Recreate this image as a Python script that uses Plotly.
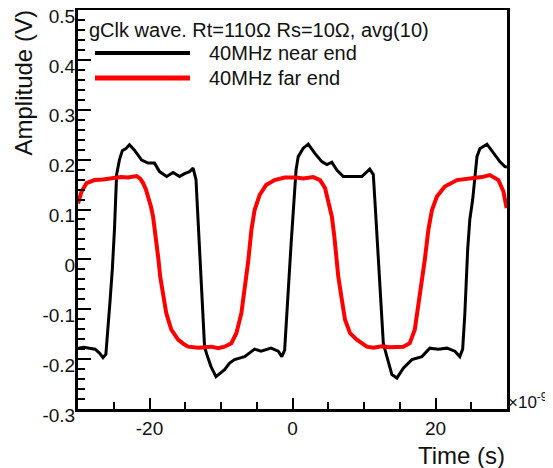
import plotly.graph_objects as go

# time in units of 1e-9 s, amplitude in V
near_t = [-30.0, -29.2, -28.4, -27.6, -27.0, -26.5, -26.1, -25.8, -25.5, -25.2,
          -24.9, -24.6, -24.2, -23.8, -23.3, -22.8, -22.1, -21.1, -20.2, -19.3,
          -18.6, -17.6, -16.7, -15.8, -15.1, -14.4, -13.9, -13.5, -13.2, -12.9,
          -12.6, -12.3, -12.0, -11.4, -10.7, -10.1, -9.5, -8.8, -8.1, -6.7,
          -5.3, -4.4, -3.0, -2.0, -1.5, -1.1, -0.8, -0.5, -0.2, 0.2,
          0.5, 0.8, 1.5, 2.2, 3.1, 4.1, 4.8, 5.5, 6.2, 7.1,
          8.5, 9.7, 10.8, 11.3, 11.6, 11.9, 12.2, 12.5, 12.7, 13.2,
          13.9, 14.6, 15.5, 16.7, 18.1, 19.2, 20.4, 21.6, 22.7, 23.4,
          23.8, 24.1, 24.5, 24.8, 25.2, 25.8, 26.2, 27.2, 28.1, 29.0,
          29.7, 30.0]
near_v = [-0.178, -0.176, -0.178, -0.180, -0.188, -0.197, -0.190, -0.140, -0.080, -0.020,
          0.060, 0.170, 0.200, 0.218, 0.222, 0.230, 0.219, 0.199, 0.193, 0.193,
          0.176, 0.166, 0.174, 0.166, 0.172, 0.176, 0.183, 0.160, 0.080, 0.000,
          -0.090, -0.175, -0.190, -0.215, -0.235, -0.228, -0.221, -0.208, -0.201, -0.195,
          -0.180, -0.184, -0.178, -0.184, -0.195, -0.182, -0.120, -0.040, 0.030, 0.120,
          0.180, 0.206, 0.223, 0.231, 0.213, 0.196, 0.190, 0.195, 0.179, 0.166,
          0.166, 0.166, 0.181, 0.170, 0.100, 0.030, -0.050, -0.120, -0.168, -0.195,
          -0.231, -0.238, -0.218, -0.201, -0.195, -0.178, -0.180, -0.178, -0.184, -0.195,
          -0.180, -0.110, 0.020, 0.080, 0.120, 0.206, 0.222, 0.231, 0.213, 0.196,
          0.186, 0.185]

far_t = [-30.0, -29.5, -28.8, -27.7, -26.5, -25.3, -24.0, -23.0, -21.8, -21.3,
         -20.9, -20.5, -20.2, -19.8, -19.5, -19.05, -18.75, -18.5, -18.1, -17.65,
         -16.95, -16.0, -15.2, -14.6, -13.2, -11.35, -10.4, -9.5, -8.55, -7.85,
         -7.15, -6.7, -6.2, -5.75, -5.3, -4.6, -3.7, -2.5, -1.1, 0.5,
         1.5, 2.9, 3.85, 4.55, 5.0, 5.5, 5.85, 6.2, 6.4, 6.9,
         7.35, 8.05, 9.0, 10.4, 11.3, 12.5, 13.6, 15.5, 16.4, 17.1,
         17.6, 18.1, 18.5, 19.0, 19.5, 20.2, 21.3, 23.0, 24.8, 26.45,
         27.6, 28.8, 29.5, 29.95]
far_v = [0.112, 0.136, 0.153, 0.159, 0.160, 0.162, 0.165, 0.164, 0.167, 0.162,
         0.153, 0.140, 0.126, 0.106, 0.086, 0.039, 0.000, -0.035, -0.068, -0.108,
         -0.141, -0.161, -0.170, -0.175, -0.177, -0.175, -0.178, -0.175, -0.168, -0.148,
         -0.108, -0.061, -0.005, 0.059, 0.099, 0.129, 0.149, 0.159, 0.164, 0.164,
         0.162, 0.165, 0.159, 0.143, 0.119, 0.086, 0.046, 0.000, -0.034, -0.081,
         -0.121, -0.148, -0.161, -0.175, -0.177, -0.174, -0.176, -0.175, -0.168, -0.141,
         -0.095, -0.048, -0.001, 0.059, 0.099, 0.126, 0.146, 0.159, 0.162, 0.165,
         0.169, 0.159, 0.136, 0.103]

x_ticks = [-20, 0, 20]
x_labels = ["-20", "0", "20"]
y_ticks = [-0.3, -0.2, -0.1, 0, 0.1, 0.2, 0.3, 0.4, 0.5]
y_labels = ["-0.3", "-0.2", "-0.1", "0", "0.1", "0.2", "0.3", "0.4", "0.5"]

FONT = "Liberation Sans, Arial, sans-serif"
TXT = "#111111"

fig = go.Figure()
fig.add_trace(go.Scatter(x=near_t, y=near_v, mode="lines",
                         line=dict(color="black", width=3), name="40MHz near end"))
fig.add_trace(go.Scatter(x=far_t, y=far_v, mode="lines",
                         line=dict(color="#ff0000", width=4), name="40MHz far end"))

# the page body adds an 8px offset, so the figure is laid out 8px smaller
OFF = 8
W, H = 553 - OFF, 468 - OFF
L, R, T, B = 70, 46, 2, 59
pw, ph = W - L - R, H - T - B


def px(x):  # screen x -> paper
    return (x - OFF - L) / pw


def py(y):  # screen y -> paper
    return 1 - (y - OFF - T) / ph


fig.update_layout(
    width=W, height=H,
    margin=dict(l=L, r=R, t=T, b=B),
    paper_bgcolor="white", plot_bgcolor="white",
    showlegend=False,
    font=dict(family=FONT, color=TXT, size=19),
    xaxis=dict(range=[-30, 30], tickvals=x_ticks, ticktext=x_labels,
               ticks="inside", ticklen=11,
               tickwidth=2, tickcolor="black", showgrid=False, zeroline=False,
               showline=True, linecolor="black", linewidth=3, mirror=True,
               tickfont=dict(size=19), automargin=False,
               minor=dict(dtick=5, tick0=0, ticks="inside", ticklen=7, tickwidth=2,
                          tickcolor="black")),
    yaxis=dict(range=[-0.3, 0.5], tickvals=y_ticks, ticktext=y_labels,
               ticks="inside", ticklen=13,
               tickwidth=2, tickcolor="black", showgrid=False, zeroline=False,
               showline=True, linecolor="black", linewidth=3, mirror=True,
               tickfont=dict(size=19), automargin=False,
               ticklabelshift=6, ticklabelstandoff=-4, ticklabeloverflow="allow",
               minor=dict(dtick=0.02, tick0=0, ticks="inside", ticklen=7, tickwidth=2,
                          tickcolor="black")),
)

# legend block drawn in the frame's top-left corner
fig.add_annotation(xref="paper", yref="paper", x=px(87), y=py(30), xanchor="left",
                   yanchor="middle", showarrow=False,
                   text="gClk wave. Rt=110Ω Rs=10Ω, avg(10)", font=dict(size=20))
legend = [("black", 4, 53, "40MHz near end"), ("#ff0000", 5, 78, "40MHz far end")]
for col, w, yy, label in legend:
    fig.add_shape(type="line", xref="paper", yref="paper", x0=px(95), x1=px(190),
                  y0=py(yy), y1=py(yy), line=dict(color=col, width=w))
    fig.add_annotation(xref="paper", yref="paper", x=px(207), y=py(yy), xanchor="left",
                       yanchor="middle", showarrow=False, text=label, font=dict(size=20))

fig.add_annotation(xref="paper", yref="paper", x=px(23), y=py(9), xanchor="center",
                   yanchor="top", showarrow=False, textangle=-90, text="Amplitude (V)",
                   font=dict(size=24))
fig.add_annotation(xref="paper", yref="paper", x=1, y=py(455), xanchor="right",
                   yanchor="middle", showarrow=False, text="Time (s)", font=dict(size=24))
fig.add_annotation(xref="paper", yref="paper", x=px(506), y=py(401), xanchor="left",
                   yanchor="middle", showarrow=False, text="×10<sup>-9</sup>",
                   font=dict(size=17))

fig.write_html("out.html")
